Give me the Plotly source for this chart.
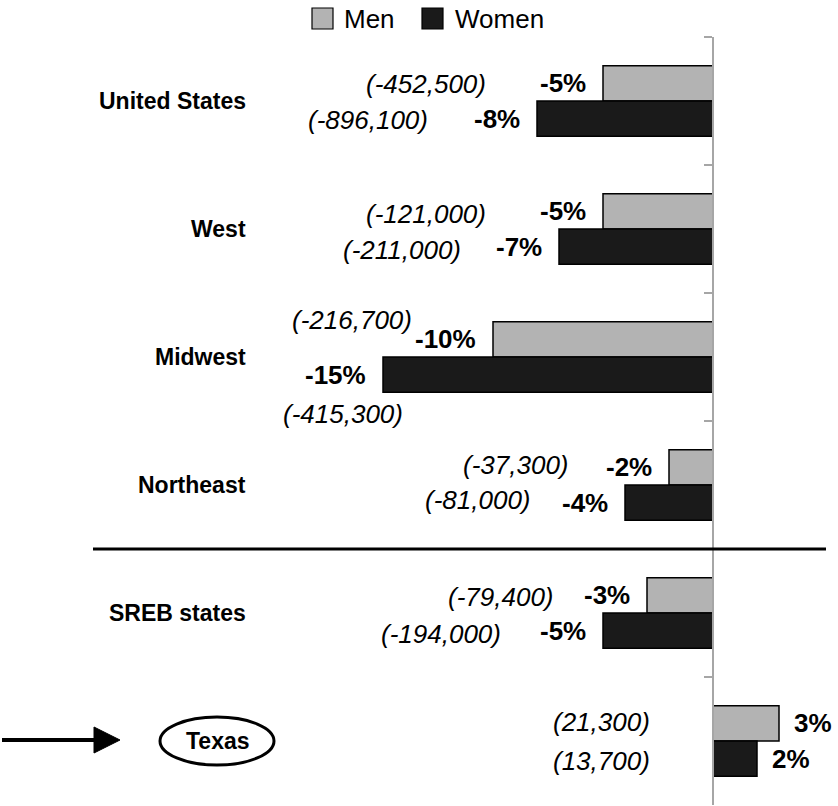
import plotly.graph_objects as go

# ---- data ----
regions = ["United States", "West", "Midwest", "Northeast", "SREB states", "Texas"]
men_pct = [-5, -5, -10, -2, -3, 3]
women_pct = [-8, -7, -15, -4, -5, 2]
men_count = ["(-452,500)", "(-121,000)", "(-216,700)", "(-37,300)", "(-79,400)", "(21,300)"]
women_count = ["(-896,100)", "(-211,000)", "(-415,300)", "(-81,000)", "(-194,000)", "(13,700)"]

# ---- layout constants ----
W, H = 838, 806
TOP, BOT = 37, 805          # plot area in pixels
AXIS_X = 713                # pixel of x = 0
PX_PER_UNIT = 22.0
FONT = "Liberation Sans, Arial, sans-serif"

def px(xp):
    return xp / W

def py(yp):
    return (BOT - yp) / (BOT - TOP)

# count-label placement (right edge x px, centre y px)
men_count_pos = [(488, 84), (488, 214), (414, 320), (571, 465), (556, 597), (652, 722)]
women_count_pos = [(430, 120), (463, 250), (405, 414), (533, 500), (503, 634), (652, 761)]

MEN_COLOR = "#b3b3b3"
WOMEN_COLOR = "#1a1a1a"

fig = go.Figure()
fig.add_trace(go.Bar(y=regions, x=men_pct, orientation="h", name="Men",
                     marker=dict(color=MEN_COLOR, line=dict(color="#000000", width=1.5))))
fig.add_trace(go.Bar(y=regions, x=women_pct, orientation="h", name="Women",
                     marker=dict(color=WOMEN_COLOR, line=dict(color="#000000", width=1.5))))

ann = []
shapes = []
off = 0.137
for i, r in enumerate(regions):
    # category label
    if r == "Texas":
        ann.append(dict(x=px(218), y=i, xref="paper", yref="y", text="<b>Texas</b>",
                        showarrow=False, xanchor="center", yanchor="middle",
                        font=dict(family=FONT, size=23, color="black")))
    else:
        ann.append(dict(x=px(248), y=i, xref="paper", yref="y", text="<b>%s</b>" % r,
                        showarrow=False, xanchor="right", yanchor="middle",
                        font=dict(family=FONT, size=23, color="black")))
    # percent labels
    for val, dy in ((men_pct[i], -off), (women_pct[i], off)):
        neg = val < 0
        ann.append(dict(x=val, y=i + dy, xref="x", yref="y",
                        text="<b>%d%%</b>" % val, showarrow=False,
                        xanchor="right" if neg else "left", yanchor="middle",
                        xshift=-15 if neg else 13,
                        font=dict(family=FONT, size=26, color="black")))
    # count labels
    for txt, (xp, yp) in ((men_count[i], men_count_pos[i]), (women_count[i], women_count_pos[i])):
        ann.append(dict(x=px(xp), y=py(yp), xref="paper", yref="paper",
                        text="<i>%s</i>" % txt, showarrow=False,
                        xanchor="right", yanchor="middle",
                        font=dict(family=FONT, size=26, color="black")))

# legend (manual)
legend_items = [("Men", MEN_COLOR, 312, 342), ("Women", WOMEN_COLOR, 422, 453)]
for name, col, sx, tx in legend_items:
    shapes.append(dict(type="rect", xref="paper", yref="paper",
                       x0=px(sx), x1=px(sx + 21), y0=py(29), y1=py(8),
                       fillcolor=col, line=dict(color="#000000", width=1.2)))
    ann.append(dict(x=px(tx), y=py(19), xref="paper", yref="paper", text=name,
                    showarrow=False, xanchor="left", yanchor="middle",
                    font=dict(family=FONT, size=26, color="black")))

# separator line between regions and SREB
shapes.append(dict(type="line", xref="paper", yref="y", x0=px(93), x1=px(826),
                   y0=3.5, y1=3.5, line=dict(color="black", width=3)))
# Texas ellipse
shapes.append(dict(type="circle", xref="paper", yref="paper",
                   x0=px(160), x1=px(274), y0=py(765), y1=py(717),
                   line=dict(color="black", width=3), fillcolor="rgba(0,0,0,0)"))
# arrow
shapes.append(dict(type="line", xref="paper", yref="paper", x0=px(2), x1=px(100),
                   y0=py(740), y1=py(740), line=dict(color="black", width=4)))
shapes.append(dict(type="path", xref="paper", yref="paper",
                   path="M %f,%f L %f,%f L %f,%f Z" % (px(94), py(727), px(120), py(740), px(94), py(753)),
                   fillcolor="black", line=dict(color="black", width=1)))

fig.update_layout(
    width=W, height=H,
    margin=dict(l=0, r=0, t=TOP, b=H - BOT, pad=0),
    paper_bgcolor="white", plot_bgcolor="white",
    barmode="group", bargap=0.45, bargroupgap=0,
    showlegend=False,
    xaxis=dict(range=[-AXIS_X / PX_PER_UNIT, (W - AXIS_X) / PX_PER_UNIT],
               visible=False, zeroline=False, showgrid=False, fixedrange=True),
    yaxis=dict(type="category", categoryorder="array", categoryarray=regions,
               range=[5.5, -0.5], anchor="free", position=AXIS_X / W, side="left",
               showline=True, linecolor="#a6a6a6", linewidth=1.5,
               ticks="outside", tickson="boundaries", ticklen=8, tickwidth=1.5,
               tickcolor="#a6a6a6", showticklabels=False, showgrid=False,
               zeroline=False, fixedrange=True),
    annotations=ann, shapes=shapes,
)

fig.write_html("out.html", config={"displayModeBar": False},
               post_script="document.body.style.margin='0';document.body.style.overflow='hidden';")
